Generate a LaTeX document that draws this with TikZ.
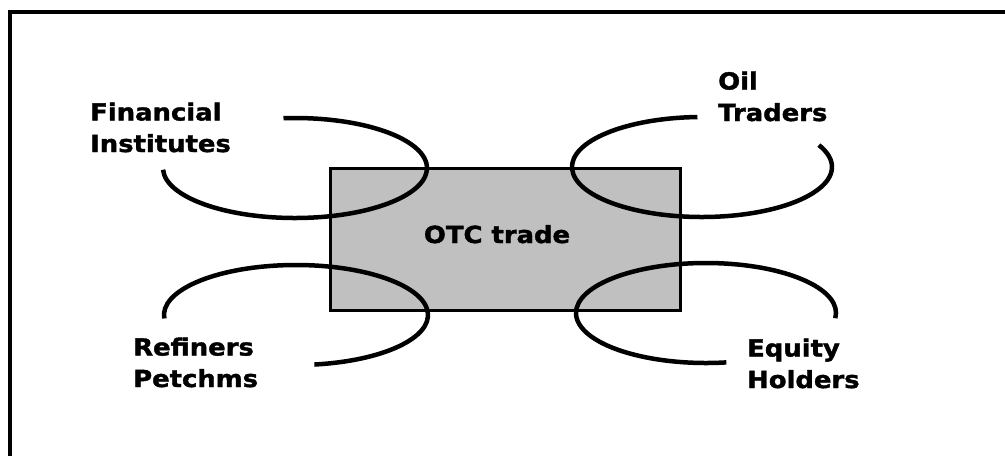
\documentclass[tikz,border=0pt]{standalone}
\usepackage{fontspec}
\setmainfont{DejaVu Sans}[FakeStretch=1.1, BoldFeatures={FakeBold=1.6}]
\definecolor{boxgray}{HTML}{C0C0C0}
\begin{document}
\begin{tikzpicture}[x=1pt,y=1pt,
  lbl/.style={inner sep=0pt, align=left, anchor=base west,
    font=\fontsize{23.5}{31.5}\selectfont\bfseries},
  ring/.style={line width=4.5pt},
  otcbox/.style={draw, fill=boxgray, line width=3pt, minimum width=350pt,
    minimum height=142pt, inner sep=0pt}]
\useasboundingbox (0,0) rectangle (1005,-456);
\fill[white] (0,0) rectangle (1005,-456);
% outer frame (open at right and bottom)
\draw[line width=4pt] (1005,-12) -- (10,-12) -- (10,-456);
% central box
\node[otcbox] (otc) at (505,-239) {};
\node[lbl, anchor=base] (otclabel) at (497,-243) {OTC trade};
% ring centres
\coordinate (c1) at (295,-168);
\coordinate (c2) at (702,-167);
\coordinate (c3) at (296,-315);
\coordinate (c4) at (706,-313);
% rings
\draw[ring] ([shift={(182:132 and 50)}]c1) arc[start angle=182, end angle=455, x radius=132, y radius=50];
\draw[ring] ([shift={(92:130 and 50)}]c2) arc[start angle=92, end angle=386, x radius=130, y radius=50];
\draw[ring] ([shift={(184:132 and 50)}]c3) arc[start angle=184, end angle=-82, x radius=132, y radius=50];
\draw[ring] ([shift={(-6:130 and 50)}]c4) arc[start angle=-6, end angle=279, x radius=130, y radius=50];
% labels (anchored at the baseline of the last line)
\node[lbl] (fin) at (90,-152) {Financial\\Institutes};
\node[lbl] (oil) at (718,-121) {Oil\\Traders};
\node[lbl] (ref) at (133,-387) {Refiners\\Petchms};
\node[lbl] (eq) at (747,-388) {Equity\\Holders};
\end{tikzpicture}
\end{document}
